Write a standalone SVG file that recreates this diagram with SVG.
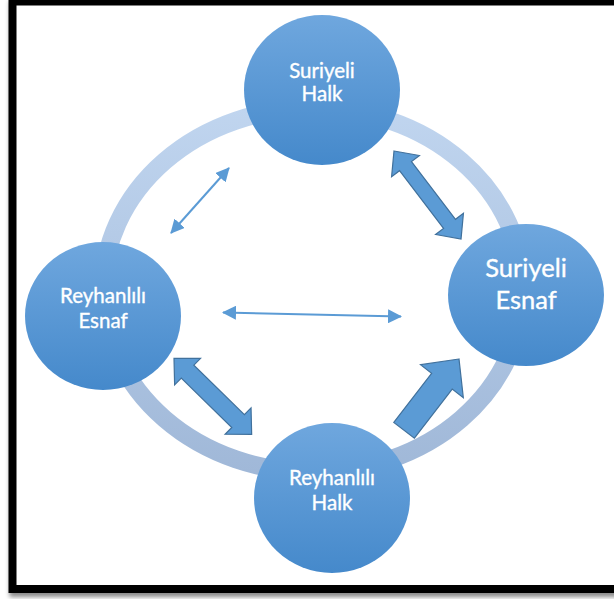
<svg xmlns="http://www.w3.org/2000/svg" width="614" height="599" viewBox="0 0 614 599">
  <defs>
    <linearGradient id="nodeGrad" x1="0" y1="0" x2="0" y2="1">
      <stop offset="0" stop-color="#6fa7de"/>
      <stop offset="1" stop-color="#4589cb"/>
    </linearGradient>
    <linearGradient id="ringGrad" x1="0" y1="0" x2="0" y2="1">
      <stop offset="0" stop-color="#c0d5ef"/>
      <stop offset="1" stop-color="#a0b8d8"/>
    </linearGradient>
    <marker id="thinHead" viewBox="0 0 14 14" refX="13" refY="7" markerWidth="14" markerHeight="14" markerUnits="userSpaceOnUse" orient="auto-start-reverse">
      <path d="M0,0 L14,7 L0,14 Z" fill="#5b9bd5"/>
    </marker>
    <filter id="shadow" x="-5%" y="-5%" width="110%" height="110%">
      <feDropShadow dx="1" dy="4" stdDeviation="2" flood-color="#000" flood-opacity="0.45"/>
    </filter>
    <style>
      .node { fill: url(#nodeGrad); }
      .label { fill: #ffffff; stroke: #ffffff; stroke-width: 0.35; font-family: Lato, "Open Sans", "Liberation Sans", sans-serif; text-anchor: middle; }
      .small { font-size: 20.5px; }
      .big { font-size: 25.5px; }
      .thick { fill: #5b9bd5; stroke: #41719c; stroke-width: 1.2; stroke-linejoin: miter; }
      .thin { stroke: #5b9bd5; stroke-width: 2; fill: none; marker-start: url(#thinHead); marker-end: url(#thinHead); }
    </style>
  </defs>

  <rect x="0" y="0" width="614" height="599" fill="#ffffff"/>
  <rect x="12.5" y="1.5" width="612" height="587.5" fill="#ffffff" stroke="#000000" stroke-width="8" filter="url(#shadow)"/>

  <ellipse id="ring" cx="313" cy="290" rx="210" ry="182" fill="none" stroke="url(#ringGrad)" stroke-width="18"/>

  <g id="connectors">
    <line class="thin" x1="171" y1="233" x2="229" y2="168"/>
    <line class="thin" x1="223" y1="312.5" x2="401" y2="316.5"/>
    <polygon class="thick" transform="translate(394,151) rotate(52.7)" points="0,0 19,-17.5 19,-7.5 91.6,-7.5 91.6,-17.5 110.6,0 91.6,17.5 91.6,7.5 19,7.5 19,17.5"/>
    <polygon class="thick" transform="translate(174,358.3) rotate(44.4)" points="0,0 19,-18.5 19,-9 89.7,-9 89.7,-18.5 108.7,0 89.7,18.5 89.7,9 19,9 19,18.5"/>
    <polygon class="thick" transform="translate(459,359) rotate(-52.4)" points="0,0 -28,-27 -28,-13 -90,-13 -90,13 -28,13 -28,27"/>
  </g>

  <g id="suriyeli-halk">
    <ellipse class="node" cx="322" cy="90" rx="78" ry="75"/>
    <text class="label small" x="322" y="78">Suriyeli</text>
    <text class="label small" x="322" y="101">Halk</text>
  </g>
  <g id="suriyeli-esnaf">
    <ellipse class="node" cx="526" cy="295" rx="78" ry="71"/>
    <text class="label big" x="526" y="277">Suriyeli</text>
    <text class="label big" x="526" y="309">Esnaf</text>
  </g>
  <g id="reyhanlili-esnaf">
    <ellipse class="node" cx="103" cy="316" rx="78" ry="74"/>
    <text class="label small" x="103" y="303">Reyhanlılı</text>
    <text class="label small" x="103" y="328">Esnaf</text>
  </g>
  <g id="reyhanlili-halk">
    <ellipse class="node" cx="332" cy="498" rx="78" ry="75"/>
    <text class="label small" x="332" y="485">Reyhanlılı</text>
    <text class="label small" x="332" y="510">Halk</text>
  </g>
</svg>
